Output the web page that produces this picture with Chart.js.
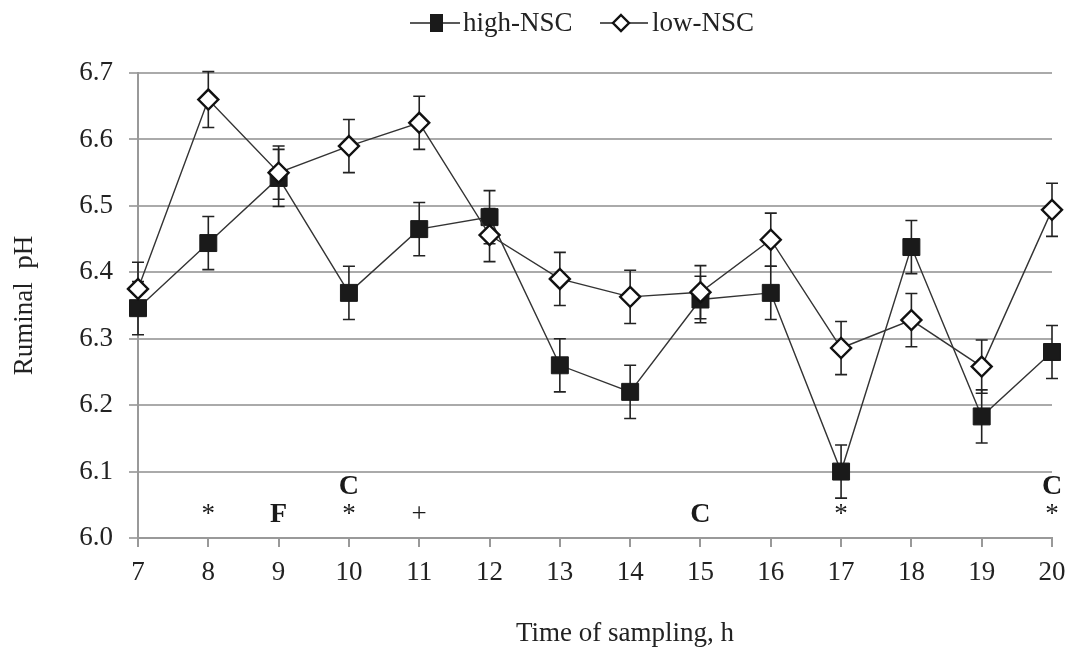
<!DOCTYPE html>
<html>
<head>
<meta charset="utf-8">
<script src="https://cdn.jsdelivr.net/npm/chart.js@4.4.0/dist/chart.umd.min.js"></script>
<style>
  html, body { margin: 0; padding: 0; background: #fff; }
  #wrap { position: relative; width: 1069px; height: 650px; }
  .lg { position: absolute; font-family: "Liberation Serif", serif; font-size: 27px; color: #222; line-height: 30px; }
</style>
</head>
<body>
<div id="wrap">
  <canvas id="myChart" width="1069" height="650"></canvas>
  <svg class="lg" style="left:410px; top:12px" width="50" height="22"><line x1="0" y1="11" x2="50" y2="11" stroke="#222" stroke-width="1.6"/><rect x="20" y="2" width="13" height="18" fill="#1a1a1a"/></svg>
  <div class="lg" style="left:463px; top:7px">high-NSC</div>
  <svg class="lg" style="left:600px; top:12px" width="48" height="22"><line x1="0" y1="11" x2="48" y2="11" stroke="#222" stroke-width="1.6"/><polygon points="21,3 29,11 21,19 13,11" fill="#fff" stroke="#111" stroke-width="2.4"/></svg>
  <div class="lg" style="left:652px; top:7px">low-NSC</div>
</div>
<script>
const hours = [7, 8, 9, 10, 11, 12, 13, 14, 15, 16, 17, 18, 19, 20];
const highNSC = [6.346, 6.444, 6.542, 6.369, 6.465, 6.483, 6.26, 6.22, 6.359, 6.369, 6.10, 6.438, 6.183, 6.28];
const highSE = [0.04, 0.04, 0.043, 0.04, 0.04, 0.04, 0.04, 0.04, 0.035, 0.04, 0.04, 0.04, 0.04, 0.04];
const lowNSC = [6.375, 6.66, 6.55, 6.59, 6.625, 6.456, 6.39, 6.363, 6.37, 6.449, 6.286, 6.328, 6.258, 6.494];
const lowSE = [0.04, 0.042, 0.04, 0.04, 0.04, 0.04, 0.04, 0.04, 0.04, 0.04, 0.04, 0.04, 0.04, 0.04];
const yTicks = [6.0, 6.1, 6.2, 6.3, 6.4, 6.5, 6.6, 6.7];

// significance marks under the lines
const markHours = [8, 9, 10, 10, 11, 15, 17, 20, 20];
const markText = ["*", "F", "*", "C", "+", "C", "*", "*", "C"];
const markLevel = [6.035, 6.035, 6.035, 6.077, 6.035, 6.035, 6.035, 6.035, 6.077];

const serif = "'Liberation Serif', 'Times New Roman', serif";

const errorBars = {
  id: "errorBars",
  beforeDatasetsDraw(chart) {
    const ctx = chart.ctx;
    const x = chart.scales.x, y = chart.scales.y;
    const sets = [[highNSC, highSE], [lowNSC, lowSE]];
    ctx.save();
    ctx.strokeStyle = "#222";
    ctx.lineWidth = 1.6;
    sets.forEach(([vals, se]) => {
      vals.forEach((v, i) => {
        const px = x.getPixelForValue(hours[i]);
        const top = y.getPixelForValue(v + se[i]);
        const bot = y.getPixelForValue(v - se[i]);
        ctx.beginPath();
        ctx.moveTo(px, top); ctx.lineTo(px, bot);
        ctx.moveTo(px - 6, top); ctx.lineTo(px + 6, top);
        ctx.moveTo(px - 6, bot); ctx.lineTo(px + 6, bot);
        ctx.stroke();
      });
    });
    ctx.restore();
  }
};

const marks = {
  id: "marks",
  afterDatasetsDraw(chart) {
    const ctx = chart.ctx;
    const x = chart.scales.x, y = chart.scales.y;
    ctx.save();
    ctx.fillStyle = "#1a1a1a";
    ctx.textAlign = "center";
    ctx.textBaseline = "middle";
    markText.forEach((t, i) => {
      const bold = t === "F" || t === "C";
      ctx.font = (bold ? "bold 28px " : "27px ") + serif;
      ctx.fillText(t, x.getPixelForValue(markHours[i]), y.getPixelForValue(markLevel[i]));
    });
    // x axis title (Excel puts it a bit right of the plot centre)
    ctx.font = "27px " + serif;
    ctx.fillStyle = "#222";
    ctx.fillText("Time of sampling, h", 625, 634);
    ctx.restore();
  }
};

const ctx = document.getElementById("myChart").getContext("2d");

new Chart(ctx, {
  type: "line",
  data: {
    datasets: [
      {
        label: "low-NSC",
        data: hours.map((h, i) => ({ x: h, y: lowNSC[i] })),
        borderColor: "#333",
        borderWidth: 1.4,
        pointStyle: "rectRot",
        pointRadius: 10,
        pointBackgroundColor: "#fff",
        pointBorderColor: "#111",
        pointBorderWidth: 2.4,
        clip: false,
        order: 0
      },
      {
        label: "high-NSC",
        data: hours.map((h, i) => ({ x: h, y: highNSC[i] })),
        borderColor: "#333",
        borderWidth: 1.4,
        pointStyle: "rect",
        pointRadius: 12,
        pointBackgroundColor: "#1a1a1a",
        pointBorderColor: "#1a1a1a",
        pointBorderWidth: 1,
        clip: false,
        order: 1
      }
    ]
  },
  options: {
    responsive: false,
    animation: false,
    layout: { padding: { left: 5, right: 17, top: 73, bottom: 4 } },
    plugins: { legend: { display: false }, tooltip: { enabled: false } },
    scales: {
      x: {
        type: "linear",
        min: 7,
        max: 20,
        afterFit: s => { s.height = 108; s.paddingRight = 0; s.paddingLeft = 0; },
        afterBuildTicks: s => { s.ticks = hours.map(h => ({ value: h })); },
        border: { color: "#999", width: 2 },
        grid: { drawOnChartArea: false, drawTicks: true, tickLength: 9, color: "#999", lineWidth: 2 },
        ticks: { color: "#222", font: { family: serif, size: 27 }, padding: 10, maxRotation: 0 }
      },
      y: {
        min: 6.0,
        max: 6.7,
        afterFit: s => { s.width = 133; },
        afterBuildTicks: s => { s.ticks = yTicks.map(v => ({ value: v })); },
        border: { color: "#999", width: 2 },
        grid: { color: "#aaa", lineWidth: 2, tickLength: 9 },
        ticks: { color: "#222", font: { family: serif, size: 27 }, padding: 16, callback: v => v.toFixed(1) },
        title: { display: true, text: "Ruminal  pH", color: "#222", font: { family: serif, size: 27 }, padding: 4 }
      }
    }
  },
  plugins: [errorBars, marks]
});
</script>
</body>
</html>
